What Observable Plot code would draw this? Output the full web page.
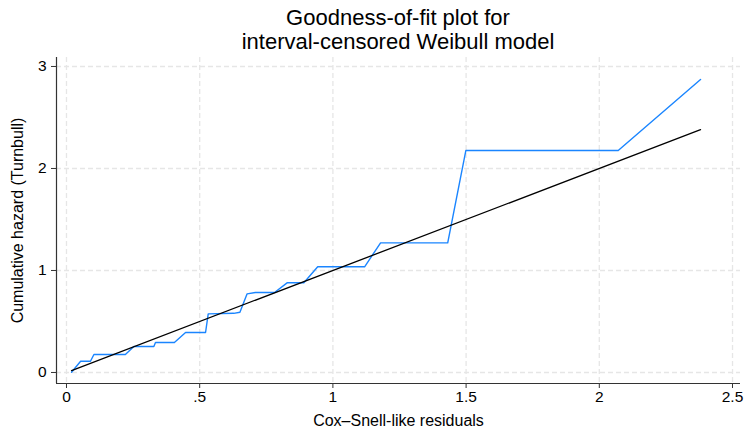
<!DOCTYPE html>
<html>
<head>
<meta charset="utf-8">
<script src="https://cdn.jsdelivr.net/npm/d3@7"></script>
<script src="https://cdn.jsdelivr.net/npm/@observablehq/plot@0.6"></script>
<style>
  body { margin: 0; background: #fff; font-family: "Liberation Sans", Arial, sans-serif; }
  #title { width: 744px; height: 54px; padding-left: 56px; padding-right: 4px; box-sizing: border-box; text-align: center; font-size: 22px; line-height: 24px; padding-top: 6px; color: #000; }
</style>
</head>
<body>
<div id="title">Goodness-of-fit plot for<br>interval-censored Weibull model</div>
<div id="chart"></div>
<script>
// Turnbull cumulative hazard vs Cox-Snell-like residuals (vertices of the blue line)
const residuals = [0.019, 0.053, 0.090, 0.103, 0.221, 0.253, 0.328, 0.334, 0.405, 0.447, 0.522, 0.532, 0.628, 0.651, 0.678, 0.709, 0.781, 0.828, 0.891, 0.943, 1.119, 1.179, 1.431, 1.499, 2.071, 2.380];
const cumHazard = [0.003, 0.110, 0.110, 0.176, 0.176, 0.255, 0.255, 0.294, 0.294, 0.392, 0.392, 0.575, 0.580, 0.590, 0.771, 0.784, 0.784, 0.879, 0.879, 1.036, 1.036, 1.271, 1.271, 2.176, 2.176, 2.873];
// Reference 45-degree line
const refX = [0.019, 2.380];
const refY = [0.019, 2.380];
// Ticks
const xTicks = [0, 0.5, 1, 1.5, 2, 2.5];
const xTickLabels = ["0", ".5", "1", "1.5", "2", "2.5"];
const yTicks = [0, 1, 2, 3];
const yTickLabels = ["0", "1", "2", "3"];
const xLabel = "Cox\u2013Snell-like residuals";
const yLabel = "Cumulative hazard (Turnbull)";

const fitData = residuals.map((x, i) => ({x, y: cumHazard[i]}));
const refData = refX.map((x, i) => ({x, y: refY[i]}));
const xDomain = [-0.0375, 2.53];
const yDomain = [-0.108, 3.088];
const grid = "#e6e6e6";

const chart = Plot.plot({
  width: 744,
  height: 376,
  marginLeft: 56,
  marginRight: 4,
  marginTop: 3,
  marginBottom: 47,
  style: {fontFamily: "'Liberation Sans', Arial, sans-serif", fontSize: "16px", color: "#000", background: "#fff"},
  x: {domain: xDomain},
  y: {domain: yDomain},
  marks: [
    Plot.gridX(xTicks, {stroke: grid, strokeOpacity: 1, strokeWidth: 1.3, strokeDasharray: "5,3"}),
    Plot.gridY(yTicks, {stroke: grid, strokeOpacity: 1, strokeWidth: 1.3, strokeDasharray: "5,3"}),
    Plot.axisX(xTicks, {tickFormat: (d, i) => xTickLabels[i], tickSize: 5, tickPadding: 2, label: null, fontSize: 15.5, stroke: "#333"}),
    Plot.axisY(yTicks, {tickFormat: (d, i) => yTickLabels[i], tickSize: 5, tickPadding: 5, label: null, fontSize: 15.5, stroke: "#333"}),
    Plot.ruleX([xDomain[0]], {stroke: "#333", strokeWidth: 1.2}),
    Plot.ruleY([yDomain[0]], {stroke: "#333", strokeWidth: 1.2}),
    Plot.line(fitData, {x: "x", y: "y", stroke: "#1a85ff", strokeWidth: 1.4}),
    Plot.line(refData, {x: "x", y: "y", stroke: "#000", strokeWidth: 1.3}),
    Plot.text([xLabel], {frameAnchor: "bottom", dy: 37, lineAnchor: "middle", fontSize: 16, fill: "#000"}),
    Plot.text([yLabel], {frameAnchor: "left", dx: -39, rotate: -90, lineAnchor: "middle", textAnchor: "middle", fontSize: 16, fill: "#000"})
  ]
});
document.getElementById("chart").appendChild(chart);
</script>
</body>
</html>
